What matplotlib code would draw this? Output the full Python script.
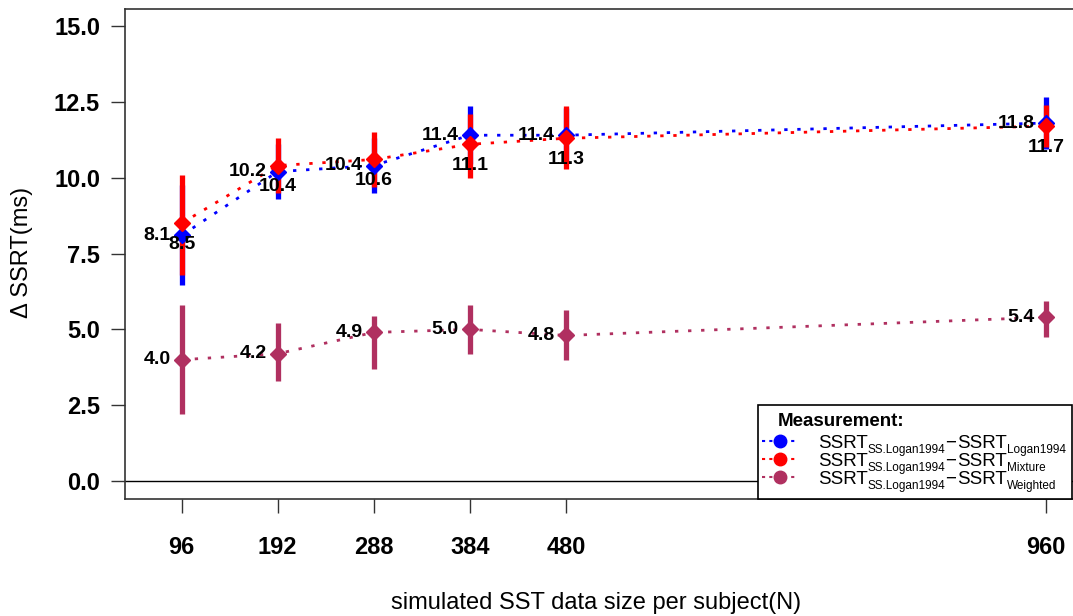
import matplotlib
matplotlib.use("Agg")
from matplotlib import pyplot as plt
from matplotlib.lines import Line2D
from matplotlib.patches import Rectangle

plt.rcParams.update({"font.family": ["Liberation Sans", "DejaVu Sans"]})

sizes = [96, 192, 288, 384, 480, 960]

logan_mean = [8.1, 10.2, 10.4, 11.4, 11.4, 11.8]
logan_lo = [6.45, 9.3, 9.5, 10.45, 10.5, 10.95]
logan_hi = [9.75, 11.1, 11.3, 12.35, 12.3, 12.65]

mixture_mean = [8.5, 10.4, 10.6, 11.1, 11.3, 11.7]
mixture_lo = [6.8, 9.5, 9.7, 10.0, 10.3, 11.0]
mixture_hi = [10.1, 11.3, 11.5, 12.1, 12.35, 12.4]

weighted_mean = [4.0, 4.2, 4.9, 5.0, 4.8, 5.4]
weighted_lo = [2.2, 3.3, 3.7, 4.2, 4.0, 4.75]
weighted_hi = [5.8, 5.2, 5.45, 5.8, 5.65, 5.95]

series = [
    ("blue", logan_mean, logan_lo, logan_hi, "left"),
    ("red", mixture_mean, mixture_lo, mixture_hi, "below"),
    ("#B03060", weighted_mean, weighted_lo, weighted_hi, "left"),
]

# legend label parts: main, subscript, main, subscript
legend_parts = [
    ("SSRT", "SS.Logan1994", "SSRT", "Logan1994"),
    ("SSRT", "SS.Logan1994", "SSRT", "Mixture"),
    ("SSRT", "SS.Logan1994", "SSRT", "Weighted"),
]

W, H = 1073, 616
fig = plt.figure(figsize=(W / 100, H / 100), dpi=100)
ax = fig.add_axes([125 / W, 117 / H, 952 / W, 490 / H])

ax.axhline(0, color="black", lw=1, zorder=1)

# dotted lines and error bars first, markers on top
for color, mean, lo, hi, _ in series:
    ax.plot(sizes, mean, color=color, lw=2, dashes=(1.2, 3.5), zorder=2)
    ax.vlines(sizes, lo, hi, color=color, lw=3.8, zorder=3)
for color, mean, lo, hi, _ in series:
    ax.plot(sizes, mean, "D", color=color, ms=8, mec=color, zorder=4)

for color, mean, lo, hi, pos in series:
    for x, y in zip(sizes, mean):
        if pos == "left":
            ax.annotate(f"{y:.1f}", (x, y), xytext=(-8, 0), textcoords="offset points",
                        ha="right", va="center", fontsize=14, fontweight="bold", zorder=5)
        else:
            ax.annotate(f"{y:.1f}", (x, y), xytext=(0, -9), textcoords="offset points",
                        ha="center", va="top", fontsize=14, fontweight="bold", zorder=5)

ax.set_xlim(39.3, 991)
ax.set_ylim(-0.59, 15.56)
ax.set_xticks(sizes)
ax.set_xticklabels([str(s) for s in sizes], fontsize=17, fontweight="bold")
ax.set_yticks([0, 2.5, 5, 7.5, 10, 12.5, 15])
ax.set_yticklabels(["0.0", "2.5", "5.0", "7.5", "10.0", "12.5", "15.0"], fontsize=17, fontweight="bold")
ax.tick_params(axis="both", direction="out", length=10, width=1, color="#333333")
ax.tick_params(axis="x", pad=17)
ax.tick_params(axis="y", pad=8)
for s in ax.spines.values():
    s.set_color("#333333")
    s.set_linewidth(1.2)

fig.text(22 / W, 1 - 252 / H, "Δ SSRT(ms)", rotation=90, ha="center", va="center", fontsize=17)
fig.text(596 / W, 1 - 603 / H, "simulated SST data size per subject(N)", ha="center", va="center", fontsize=17)


# legend drawn by hand in figure pixel positions
def fx(p):
    return p / W


def fy(p):
    return 1 - p / H


renderer = fig.canvas.get_renderer()

fig.add_artist(Rectangle((fx(758), fy(499)), fx(1072) - fx(758), fy(405) - fy(499),
                         transform=fig.transFigure, facecolor="white", edgecolor="black",
                         lw=1.2, zorder=5))
fig.text(fx(778), fy(421), "Measurement:", fontsize=13.5, fontweight="bold",
         ha="left", va="center", zorder=6)
for (color, *_), parts, yb in zip(series, legend_parts, [448, 466, 484]):
    yc = yb - 7
    fig.add_artist(Line2D([fx(762), fx(797)], [fy(yc), fy(yc)], transform=fig.transFigure,
                          color=color, lw=1.5, dashes=(1.5, 2), zorder=6))
    fig.add_artist(Line2D([fx(780)], [fy(yc)], transform=fig.transFigure, color=color,
                          marker="o", ms=9, zorder=7))
    x = 818
    pieces = [(parts[0], 13.5, 0), (parts[1], 8.5, 5), ("\u2212", 13.5, 0),
              (parts[2], 13.5, 0), (parts[3], 8.5, 5)]
    for txt, size, drop in pieces:
        t = fig.text(fx(x), fy(yb + drop), txt, fontsize=size, ha="left", va="baseline", zorder=6)
        x += t.get_window_extent(renderer).width + (1 if txt == "\u2212" else 0)

fig.savefig("out.png", dpi=100)
